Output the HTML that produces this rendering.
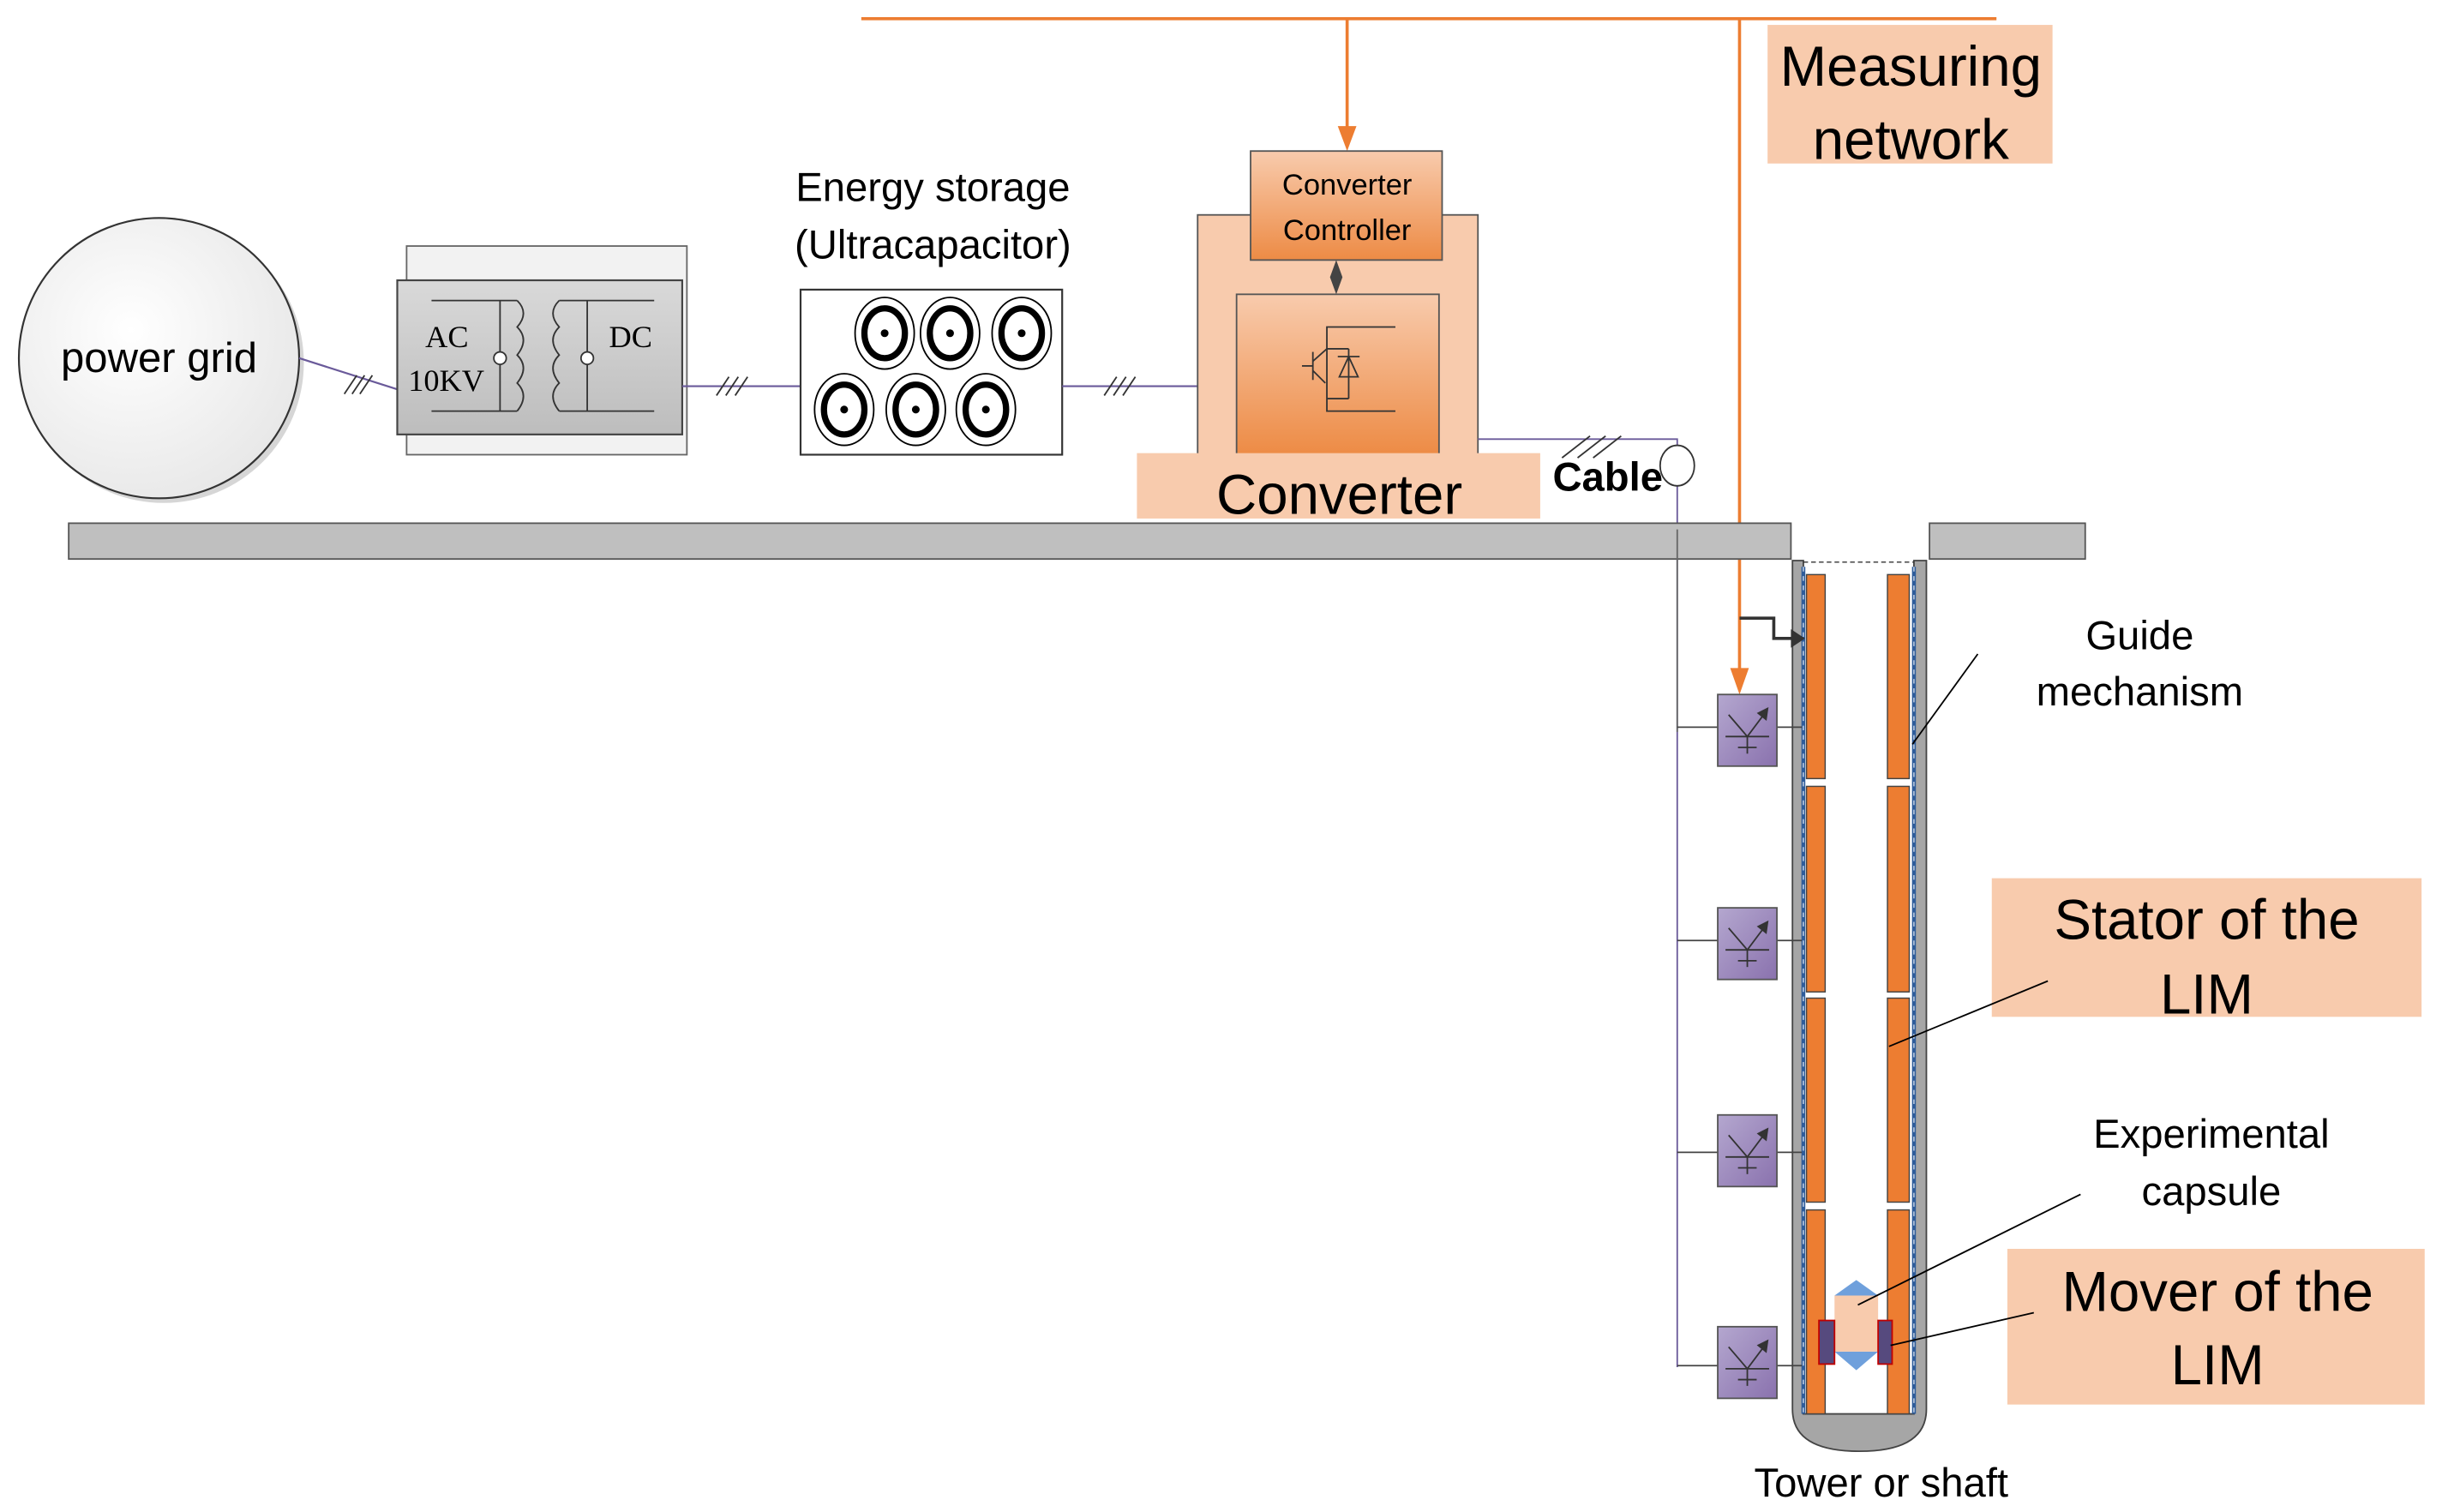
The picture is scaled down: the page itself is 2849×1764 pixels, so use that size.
<!DOCTYPE html>
<html><head><meta charset="utf-8"><style>
html,body{margin:0;padding:0;background:#fff;}
svg{display:block;}
text{font-family:"Liberation Sans",sans-serif;fill:#000;}
</style></head><body>
<svg width="2849" height="1764" viewBox="0 0 1568 971" xmlns="http://www.w3.org/2000/svg">
<defs>
<linearGradient id="og" x1="0" y1="0" x2="0" y2="1"><stop offset="0" stop-color="#F8CBAD"/><stop offset="1" stop-color="#ED8B45"/></linearGradient>
<linearGradient id="pg" x1="0" y1="0" x2="1" y2="1"><stop offset="0" stop-color="#B4A7CF"/><stop offset="1" stop-color="#8A72AE"/></linearGradient>
<linearGradient id="gg" x1="0" y1="0" x2="0" y2="1"><stop offset="0" stop-color="#d9d9d9"/><stop offset="1" stop-color="#bdbdbd"/></linearGradient>
<radialGradient id="cg" cx="0.4" cy="0.4" r="0.7"><stop offset="0" stop-color="#ffffff"/><stop offset="1" stop-color="#e6e6e6"/></radialGradient>
</defs>

<line x1="553" y1="12" x2="1282" y2="12" stroke="#ED7D31" stroke-width="2"/>
<line x1="865" y1="12" x2="865" y2="82" stroke="#ED7D31" stroke-width="2"/>
<path d="M859,81 L871,81 L865,97 z" fill="#ED7D31"/>
<line x1="1117" y1="12" x2="1117" y2="430" stroke="#ED7D31" stroke-width="2"/>
<path d="M1111,429 L1123,429 L1117,446 z" fill="#ED7D31"/>
<rect x="1135" y="16" width="183" height="89" fill="#F8CBAD"/>
<text x="1227" y="55" font-size="36" text-anchor="middle">Measuring</text>
<text x="1227" y="102" font-size="36" text-anchor="middle">network</text>

<ellipse cx="105" cy="233" rx="90" ry="90" fill="#bbb" opacity="0.6"/>
<ellipse cx="102" cy="230" rx="90" ry="90" fill="url(#cg)" stroke="#333" stroke-width="1.2"/>
<text x="102" y="239" font-size="27" text-anchor="middle">power grid</text>
<line x1="192" y1="230" x2="255" y2="250" stroke="#6A5A9A" stroke-width="1.2"/>
<g stroke="#333" stroke-width="1"><line x1="221" y1="253" x2="229" y2="241"/><line x1="226" y1="253" x2="234" y2="241"/><line x1="231" y1="253" x2="239" y2="241"/></g>

<rect x="261" y="158" width="180" height="134" fill="#f2f2f2" stroke="#666" stroke-width="1"/>
<rect x="255" y="180" width="183" height="99" fill="url(#gg)" stroke="#444" stroke-width="1.2"/>
<g stroke="#333" stroke-width="1" fill="none">
<line x1="277" y1="193" x2="332" y2="193"/><line x1="277" y1="264" x2="332" y2="264"/>
<line x1="359" y1="193" x2="420" y2="193"/><line x1="359" y1="264" x2="420" y2="264"/>
<line x1="321" y1="193" x2="321" y2="264"/><line x1="377" y1="193" x2="377" y2="264"/>
<path d="M332,193 q8,8 0,17 q8,8 0,18 q8,8 0,18 q8,8 0,18"/>
<path d="M359,193 q-8,8 0,17 q-8,8 0,18 q-8,8 0,18 q-8,8 0,18"/>
<circle cx="321" cy="230" r="4" fill="#fff"/><circle cx="377" cy="230" r="4" fill="#fff"/>
</g>
<text x="273" y="223" font-size="20" style="font-family:'Liberation Serif',serif">AC</text>
<text x="262" y="251" font-size="20" style="font-family:'Liberation Serif',serif">10KV</text>
<text x="391" y="223" font-size="20" style="font-family:'Liberation Serif',serif">DC</text>

<line x1="438" y1="248" x2="514" y2="248" stroke="#6A5A9A" stroke-width="1.2"/>
<g stroke="#333"><line x1="460" y1="254" x2="468" y2="242"/><line x1="466" y1="254" x2="474" y2="242"/><line x1="472" y1="254" x2="480" y2="242"/></g>
<text x="599" y="129" font-size="26" text-anchor="middle">Energy storage</text>
<text x="599" y="166" font-size="26" text-anchor="middle">(Ultracapacitor)</text>
<rect x="514" y="186" width="168" height="106" fill="#fff" stroke="#333" stroke-width="1.2"/>
<g fill="#fff" stroke="#000">
<g transform="translate(568,214)"><ellipse rx="19" ry="23" stroke-width="1"/><ellipse rx="13" ry="16" stroke-width="4"/><circle r="2" fill="#000"/></g>
<g transform="translate(610,214)"><ellipse rx="19" ry="23" stroke-width="1"/><ellipse rx="13" ry="16" stroke-width="4"/><circle r="2" fill="#000"/></g>
<g transform="translate(656,214)"><ellipse rx="19" ry="23" stroke-width="1"/><ellipse rx="13" ry="16" stroke-width="4"/><circle r="2" fill="#000"/></g>
<g transform="translate(542,263)"><ellipse rx="19" ry="23" stroke-width="1"/><ellipse rx="13" ry="16" stroke-width="4"/><circle r="2" fill="#000"/></g>
<g transform="translate(588,263)"><ellipse rx="19" ry="23" stroke-width="1"/><ellipse rx="13" ry="16" stroke-width="4"/><circle r="2" fill="#000"/></g>
<g transform="translate(633,263)"><ellipse rx="19" ry="23" stroke-width="1"/><ellipse rx="13" ry="16" stroke-width="4"/><circle r="2" fill="#000"/></g>
</g>
<line x1="682" y1="248" x2="769" y2="248" stroke="#6A5A9A" stroke-width="1.2"/>
<g stroke="#333"><line x1="709" y1="254" x2="717" y2="242"/><line x1="715" y1="254" x2="723" y2="242"/><line x1="721" y1="254" x2="729" y2="242"/></g>

<rect x="769" y="138" width="180" height="154" fill="#F8CBAD" stroke="#555" stroke-width="1"/>
<rect x="803" y="97" width="123" height="70" fill="url(#og)" stroke="#555" stroke-width="1"/>
<text x="865" y="125" font-size="19" text-anchor="middle">Converter</text>
<text x="865" y="154" font-size="19" text-anchor="middle">Controller</text>
<path d="M858,167 L862,178 L858,189 L854,178 z" fill="#444"/>
<rect x="794" y="189" width="130" height="103" fill="url(#og)" stroke="#555" stroke-width="1"/>
<g stroke="#333" stroke-width="1" fill="none">
<polyline points="896,210 852,210 852,264 896,264"/>
<line x1="852" y1="224" x2="866" y2="224"/><line x1="852" y1="256" x2="866" y2="256"/>
<line x1="866" y1="224" x2="866" y2="256"/>
<path d="M860,242 L866,229 L872,242 z"/><line x1="859" y1="229" x2="873" y2="229"/>
<line x1="843" y1="226" x2="843" y2="244"/><line x1="836" y1="235" x2="843" y2="235"/>
<line x1="843" y1="232" x2="852" y2="224"/><line x1="843" y1="238" x2="851" y2="246"/>
</g>
<rect x="730" y="291" width="259" height="42" fill="#F8CBAD"/>
<text x="860" y="330" font-size="36" text-anchor="middle">Converter</text>

<polyline points="949,282 1077,282 1077,878" fill="none" stroke="#6A5A9A" stroke-width="1"/>
<g stroke="#333"><line x1="1003" y1="294" x2="1021" y2="280"/><line x1="1013" y1="294" x2="1031" y2="280"/><line x1="1023" y1="294" x2="1041" y2="280"/></g>
<ellipse cx="1077" cy="299" rx="11" ry="13" fill="#fff" stroke="#333" stroke-width="1"/>
<text x="997" y="315" font-size="26" font-weight="bold">Cable</text>

<rect x="44" y="336" width="1106" height="23" fill="#bfbfbf" stroke="#555" stroke-width="1"/>
<rect x="1239" y="336" width="100" height="23" fill="#bfbfbf" stroke="#555" stroke-width="1"/>
<line x1="1077" y1="340" x2="1077" y2="470" stroke="#666" stroke-width="1"/>

<path d="M1151,360 L1151,905 Q1151,932 1194,932 Q1237,932 1237,905 L1237,360 L1229,360 L1229,908 L1158,908 L1158,360 z" fill="#a6a6a6" stroke="#444" stroke-width="1"/>
<line x1="1158" y1="361" x2="1229" y2="361" stroke="#333" stroke-width="0.8" stroke-dasharray="3,2"/>
<line x1="1158" y1="364" x2="1158" y2="908" stroke="#2E5C9A" stroke-width="2.5"/>
<line x1="1229" y1="364" x2="1229" y2="908" stroke="#2E5C9A" stroke-width="2.5"/>
<line x1="1158" y1="364" x2="1158" y2="908" stroke="#fff" stroke-width="0.6" stroke-dasharray="3,3"/>
<line x1="1229" y1="364" x2="1229" y2="908" stroke="#fff" stroke-width="0.6" stroke-dasharray="3,3"/>
<g fill="#ED7D31" stroke="#444" stroke-width="0.8">
<rect x="1160" y="369" width="12" height="131"/><rect x="1160" y="505" width="12" height="132"/><rect x="1160" y="641" width="12" height="131"/><rect x="1160" y="777" width="12" height="131"/>
<rect x="1212" y="369" width="14" height="131"/><rect x="1212" y="505" width="14" height="132"/><rect x="1212" y="641" width="14" height="131"/><rect x="1212" y="777" width="14" height="131"/>
</g>
<polyline points="1117,397 1139,397 1139,410 1152,410" fill="none" stroke="#333" stroke-width="2"/>
<path d="M1150,404 L1159,410 L1150,416 z" fill="#333"/>

<g stroke="#444" stroke-width="1">
<line x1="1077" y1="467" x2="1157" y2="467"/><line x1="1077" y1="604" x2="1157" y2="604"/>
<line x1="1077" y1="740" x2="1157" y2="740"/><line x1="1077" y1="877" x2="1157" y2="877"/>
</g>
<g id="s">
<rect x="1103" y="446" width="38" height="46" fill="url(#pg)" stroke="#555" stroke-width="1"/>
<g stroke="#333" stroke-width="1" fill="none"><polyline points="1110,459 1122,473 1134,457"/><path d="M1135,455 L1129,458 L1134,462 z" fill="#333"/><line x1="1108" y1="473" x2="1136" y2="473"/><line x1="1122" y1="473" x2="1122" y2="484"/><line x1="1116" y1="480" x2="1128" y2="480"/></g>
</g>
<use href="#s" y="137"/><use href="#s" y="270"/><use href="#s" y="406"/>

<path d="M1178,832 L1192,822 L1206,832 z" fill="#6FA0DC"/>
<path d="M1178,868 L1192,880 L1206,868 z" fill="#6FA0DC"/>
<rect x="1178" y="832" width="28" height="36" fill="#F8CBAD"/>
<rect x="1168" y="848" width="10" height="28" fill="#564A7E" stroke="#C00000" stroke-width="1"/>
<rect x="1206" y="848" width="9" height="28" fill="#564A7E" stroke="#C00000" stroke-width="1"/>

<text x="1374" y="417" font-size="26" text-anchor="middle">Guide</text>
<text x="1374" y="453" font-size="26" text-anchor="middle">mechanism</text>
<line x1="1270" y1="420" x2="1228" y2="478" stroke="#000" stroke-width="1"/>
<rect x="1279" y="564" width="276" height="89" fill="#F8CBAD"/>
<text x="1417" y="603" font-size="36" text-anchor="middle">Stator of the</text>
<text x="1417" y="651" font-size="36" text-anchor="middle">LIM</text>
<line x1="1315" y1="630" x2="1213" y2="672" stroke="#000" stroke-width="1"/>
<text x="1420" y="737" font-size="26" text-anchor="middle">Experimental</text>
<text x="1420" y="774" font-size="26" text-anchor="middle">capsule</text>
<line x1="1336" y1="767" x2="1193" y2="838" stroke="#000" stroke-width="1"/>
<rect x="1289" y="802" width="268" height="100" fill="#F8CBAD"/>
<text x="1424" y="842" font-size="36" text-anchor="middle">Mover of the</text>
<text x="1424" y="889" font-size="36" text-anchor="middle">LIM</text>
<line x1="1306" y1="843" x2="1214" y2="864" stroke="#000" stroke-width="1"/>
<text x="1208" y="961" font-size="26" text-anchor="middle">Tower or shaft</text>
</svg>
</body></html>
